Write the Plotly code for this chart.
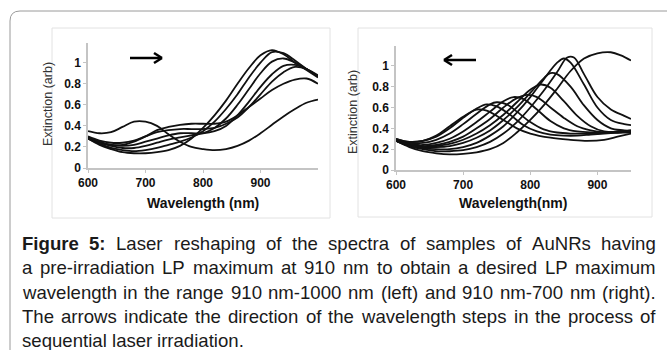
import plotly.graph_objects as go

W, H = 667, 350

# ---------------- data ----------------
left_wl = [600, 620, 640, 660, 680, 700, 720, 740, 760, 780, 800, 820, 840, 860, 880, 900, 920, 940, 960, 980, 1000]
left_A = [0.35, 0.33, 0.34, 0.39, 0.44, 0.44, 0.40, 0.32, 0.25, 0.20, 0.18, 0.17, 0.18, 0.21, 0.26, 0.33, 0.41, 0.49, 0.56, 0.62, 0.65]
left_B = [0.28, 0.24, 0.22, 0.22, 0.25, 0.30, 0.36, 0.39, 0.41, 0.42, 0.42, 0.42, 0.44, 0.50, 0.58, 0.66, 0.74, 0.80, 0.84, 0.85, 0.80]
left_C = [0.28, 0.22, 0.18, 0.15, 0.14, 0.14, 0.15, 0.17, 0.21, 0.28, 0.38, 0.50, 0.64, 0.80, 0.95, 1.07, 1.12, 1.08, 1.00, 0.93, 0.86]
left_D = [0.28, 0.23, 0.19, 0.17, 0.16, 0.17, 0.19, 0.22, 0.25, 0.29, 0.35, 0.44, 0.56, 0.70, 0.86, 1.00, 1.10, 1.09, 1.02, 0.94, 0.87]
left_E = [0.29, 0.24, 0.21, 0.19, 0.19, 0.21, 0.24, 0.27, 0.29, 0.31, 0.33, 0.38, 0.47, 0.60, 0.75, 0.90, 1.01, 1.04, 1.00, 0.94, 0.87]
left_F = [0.29, 0.25, 0.22, 0.21, 0.22, 0.25, 0.28, 0.31, 0.33, 0.33, 0.33, 0.35, 0.40, 0.50, 0.63, 0.77, 0.89, 0.97, 0.98, 0.94, 0.87]
left_G = [0.30, 0.26, 0.24, 0.24, 0.26, 0.30, 0.34, 0.36, 0.37, 0.37, 0.37, 0.38, 0.42, 0.48, 0.58, 0.70, 0.82, 0.91, 0.96, 0.94, 0.88]
left_series = [left_A, left_B, left_C, left_D, left_E, left_F, left_G]

right_R1_wl = [600, 620, 640, 660, 680, 700, 720, 740, 760, 780, 800, 820, 840, 860, 880, 900, 920, 935, 950]
right_R1 = [0.28, 0.22, 0.18, 0.16, 0.15, 0.155, 0.17, 0.20, 0.26, 0.36, 0.48, 0.62, 0.78, 0.95, 1.07, 1.12, 1.13, 1.10, 1.05]
right_R2_wl = [600, 620, 640, 660, 680, 700, 720, 740, 760, 780, 800, 820, 840, 855, 865, 880, 900, 920, 940, 950]
right_R2 = [0.28, 0.23, 0.20, 0.18, 0.18, 0.19, 0.22, 0.27, 0.35, 0.46, 0.60, 0.76, 0.94, 1.08, 1.08, 0.92, 0.70, 0.58, 0.52, 0.49]
right_R3_wl = [600, 620, 640, 660, 680, 700, 720, 740, 760, 780, 800, 820, 840, 850, 860, 880, 900, 920, 940, 950]
right_R3 = [0.28, 0.23, 0.21, 0.20, 0.20, 0.22, 0.26, 0.33, 0.42, 0.55, 0.70, 0.87, 1.03, 1.07, 1.03, 0.82, 0.60, 0.48, 0.44, 0.43]
right_R4_wl = [600, 620, 640, 660, 680, 700, 720, 740, 760, 780, 800, 820, 830, 840, 860, 880, 900, 920, 940, 950]
right_R4 = [0.28, 0.24, 0.22, 0.22, 0.23, 0.26, 0.31, 0.38, 0.48, 0.60, 0.74, 0.88, 0.93, 0.92, 0.80, 0.62, 0.48, 0.40, 0.38, 0.37]
right_R5_wl = [600, 620, 640, 660, 680, 700, 720, 740, 760, 780, 800, 815, 830, 850, 870, 890, 910, 930, 950]
right_R5 = [0.28, 0.24, 0.22, 0.23, 0.25, 0.29, 0.35, 0.43, 0.53, 0.65, 0.77, 0.82, 0.79, 0.66, 0.52, 0.42, 0.37, 0.36, 0.36]
right_R6_wl = [600, 620, 640, 660, 680, 700, 720, 740, 760, 780, 795, 810, 830, 850, 870, 890, 910, 930, 950]
right_R6 = [0.28, 0.25, 0.23, 0.24, 0.27, 0.32, 0.40, 0.49, 0.60, 0.69, 0.72, 0.70, 0.60, 0.50, 0.42, 0.38, 0.36, 0.36, 0.37]
right_R7_wl = [600, 620, 640, 660, 680, 700, 720, 740, 760, 775, 790, 810, 830, 850, 870, 890, 910, 930, 950]
right_R7 = [0.29, 0.25, 0.24, 0.26, 0.30, 0.37, 0.46, 0.56, 0.66, 0.70, 0.68, 0.58, 0.47, 0.40, 0.37, 0.36, 0.36, 0.37, 0.38]
right_R8_wl = [600, 620, 640, 660, 680, 700, 720, 740, 750, 765, 780, 800, 820, 840, 860, 880, 900, 920, 950]
right_R8 = [0.29, 0.26, 0.26, 0.29, 0.35, 0.44, 0.54, 0.63, 0.65, 0.63, 0.56, 0.46, 0.39, 0.36, 0.35, 0.35, 0.35, 0.36, 0.38]
right_R9_wl = [600, 620, 640, 660, 680, 700, 720, 735, 750, 770, 790, 810, 830, 850, 870, 890, 910, 930, 950]
right_R9 = [0.30, 0.27, 0.28, 0.32, 0.40, 0.50, 0.59, 0.63, 0.61, 0.53, 0.43, 0.37, 0.34, 0.33, 0.33, 0.34, 0.35, 0.36, 0.37]
right_R10_wl = [600, 620, 640, 660, 680, 700, 720, 735, 760, 780, 800, 830, 860, 885, 910, 930, 950]
right_R10 = [0.30, 0.27, 0.28, 0.33, 0.42, 0.51, 0.58, 0.57, 0.48, 0.40, 0.35, 0.31, 0.29, 0.28, 0.29, 0.32, 0.35]
right_series = [
    (right_R1_wl, right_R1), (right_R2_wl, right_R2), (right_R3_wl, right_R3),
    (right_R4_wl, right_R4), (right_R5_wl, right_R5), (right_R6_wl, right_R6),
    (right_R7_wl, right_R7), (right_R8_wl, right_R8), (right_R9_wl, right_R9),
    (right_R10_wl, right_R10),
]

x_ticks = [600, 700, 800, 900]
x_tick_labels = ["600", "700", "800", "900"]
y_ticks = [0, 0.2, 0.4, 0.6, 0.8, 1.0]
y_tick_labels = ["0", "0.2", "0.4", "0.6", "0.8", "1"]

caption_lines = [
    "Figure 5: Laser reshaping of the spectra of samples of AuNRs having",
    "a pre-irradiation LP maximum at 910 nm to obtain a desired LP maximum",
    "wavelength in the range 910 nm-1000 nm (left) and 910 nm-700 nm (right).",
    "The arrows indicate the direction of the wavelength steps in the process of",
    "sequential laser irradiation.",
]

# ---------------- helpers ----------------
def px(x):
    return x / W

def py(y):
    return 1 - y / H

FONT = "Liberation Sans, Arial, Helvetica, sans-serif"

fig = go.Figure()
line_style = dict(color="#111111", width=1.8, shape="spline", smoothing=1.0)
for s in left_series:
    fig.add_trace(go.Scatter(x=left_wl, y=s, mode="lines", line=line_style,
                             xaxis="x", yaxis="y", showlegend=False, hoverinfo="skip"))
for wl, s in right_series:
    fig.add_trace(go.Scatter(x=wl, y=s, mode="lines", line=line_style,
                             xaxis="x2", yaxis="y2", showlegend=False, hoverinfo="skip"))

axis_common = dict(showgrid=False, zeroline=False, showline=True, linecolor="#c4c4c4",
                   linewidth=1.5, ticks="outside", ticklen=3, tickcolor="#c4c4c4",
                   automargin=False,
                   tickfont=dict(family=FONT, size=12, color="#111111", weight="bold"))

fig.update_layout(
    width=W, height=H, margin=dict(l=0, r=0, t=0, b=0, pad=0, autoexpand=False),
    paper_bgcolor="white", plot_bgcolor="rgba(0,0,0,0)", showlegend=False,
    xaxis=dict(domain=[px(88), px(318)], range=[600, 1000], tickvals=x_ticks,
               ticktext=x_tick_labels, anchor="y", **axis_common),
    yaxis=dict(domain=[py(168), py(43)], range=[0, 1.187], tickvals=y_ticks,
               ticktext=y_tick_labels, anchor="x", **axis_common),
    xaxis2=dict(domain=[px(396), px(631)], range=[600, 950], tickvals=x_ticks,
                ticktext=x_tick_labels, anchor="y2", **axis_common),
    yaxis2=dict(domain=[py(170), py(46)], range=[0, 1.19], tickvals=y_ticks,
                ticktext=y_tick_labels, anchor="x2", **axis_common),
)

shapes = []
gray = "#9a9a9a"
# outer frame with rounded top-left corner
shapes.append(dict(type="path", xref="paper", yref="paper",
                   path=f"M {px(10)},{py(350)} L {px(10)},{py(21)} Q {px(10)},{py(11)} {px(20)},{py(11)} L {px(667)},{py(11)}",
                   line=dict(color=gray, width=1)))
# panel image frames
for (x0, y0, x1, y1) in [(52, 28, 330, 218), (358, 28, 652, 217)]:
    shapes.append(dict(type="rect", xref="paper", yref="paper",
                       x0=px(x0), x1=px(x1), y0=py(y1), y1=py(y0),
                       line=dict(color="#e2e2e2", width=1)))
# direction arrows
def arrow(x_tail, x_head, y):
    d = 1 if x_head > x_tail else -1
    res = [dict(type="line", xref="paper", yref="paper", x0=px(x_tail), x1=px(x_head - d * 1),
                y0=py(y), y1=py(y), line=dict(color="black", width=2.5))]
    for dy in (-5, 5):
        res.append(dict(type="line", xref="paper", yref="paper",
                        x0=px(x_head), y0=py(y), x1=px(x_head - d * 8), y1=py(y + dy),
                        line=dict(color="black", width=2.5)))
    return res
shapes += arrow(130, 162, 58)
shapes += arrow(476, 444, 60)
fig.update_layout(shapes=shapes)

ann = []
center = dict(xref="paper", yref="paper", xanchor="center", yanchor="middle", showarrow=False)
# axis titles
ann.append(dict(text="Wavelength (nm)", x=px(203), y=py(203), **center,
                font=dict(family=FONT, size=14, color="#111", weight="bold")))
ann.append(dict(text="Wavelength(nm)", x=px(513), y=py(203), **center,
                font=dict(family=FONT, size=14, color="#111", weight="bold")))
ann.append(dict(text="Extinction (arb)", x=px(48), y=py(104), textangle=-90, **center,
                font=dict(family=FONT, size=12.5, color="#333")))
ann.append(dict(text="Extinction (arb)", x=px(353), y=py(112), textangle=-90, **center,
                font=dict(family=FONT, size=12.5, color="#333")))

# caption, justified using Helvetica/Arial metrics
REG = {' ': 278, '(': 333, ')': 333, '-': 333, '.': 278, ':': 278, '0': 556, '1': 556, '2': 556,
       '3': 556, '4': 556, '5': 556, '6': 556, '7': 556, '8': 556, '9': 556,
       'A': 667, 'F': 611, 'L': 556, 'N': 722, 'P': 667, 'R': 722, 'T': 611,
       'a': 556, 'b': 556, 'c': 500, 'd': 556, 'e': 556, 'f': 278, 'g': 556, 'h': 556, 'i': 222,
       'j': 222, 'k': 500, 'l': 222, 'm': 833, 'n': 556, 'o': 556, 'p': 556, 'q': 556, 'r': 333,
       's': 500, 't': 278, 'u': 556, 'v': 500, 'w': 722, 'x': 500, 'y': 500, 'z': 500}
BOLD = {'F': 611, 'i': 278, 'g': 611, 'u': 611, 'r': 389, 'e': 556, '5': 556, ':': 333, ' ': 278}
FS = 18.6
X0, X1 = 22, 656
line_y = [243, 267.5, 292, 316, 340]

def wwidth(word, bold):
    tab = BOLD if bold else REG
    return sum(tab.get(c, 556) for c in word) * FS / 1000.0

for li, text in enumerate(caption_lines):
    words = text.split(" ")
    bolds = [li == 0 and i < 2 for i in range(len(words))]
    widths = [wwidth(w, b) for w, b in zip(words, bolds)]
    if li < len(caption_lines) - 1:
        gap = (X1 - X0 - sum(widths)) / (len(words) - 1)
    else:
        gap = REG[' '] * FS / 1000.0
    x = X0
    for w, b, wd in zip(words, bolds, widths):
        ann.append(dict(text=w, x=px(x), y=py(line_y[li]), xref="paper", yref="paper",
                        xanchor="left", yanchor="middle", showarrow=False,
                        borderpad=0, borderwidth=0,
                        font=dict(family=FONT, size=FS, color="#1a1a1a",
                                  weight="bold" if b else "normal")))
        x += wd + gap
fig.update_layout(annotations=ann)

fig.write_html("out.html", config={"displayModeBar": False},
               post_script="document.body.style.margin='0';document.body.style.overflow='hidden';")
